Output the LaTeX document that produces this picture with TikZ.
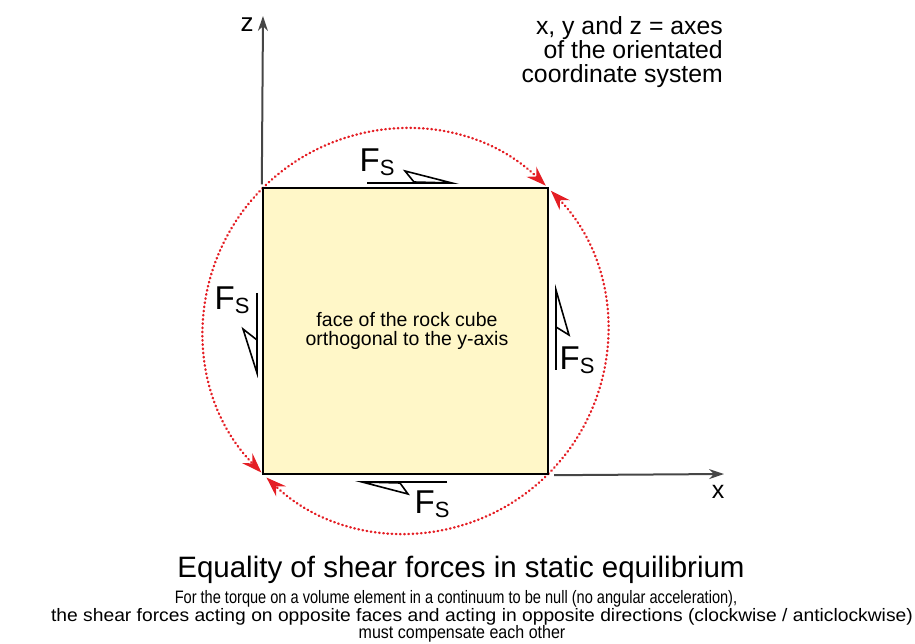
\documentclass[tikz,border=0pt]{standalone}
\usepackage{fontspec}
\setmainfont{Liberation Sans}
\usetikzlibrary{arrows.meta}
\definecolor{arcred}{RGB}{228,30,36}
\definecolor{faceyellow}{RGB}{255,247,200}
\definecolor{axisgray}{RGB}{70,70,70}
\newcommand{\fsz}[1]{\fontsize{#1}{#1}\selectfont}
\begin{document}
\begin{tikzpicture}[x=1pt,y=1pt,
 axis/.style={draw=axisgray, line width=2pt, -{Stealth[length=15pt,width=10pt]}},
 torque/.style={draw=arcred, line width=2.4pt, line cap=round, dash pattern=on 0.6pt off 3.6pt, -{Stealth[length=20pt,width=14pt,inset=7pt]}},
 face/.style={draw=black, line width=2.4pt, fill=faceyellow, inner sep=0pt},
 shear/.style={draw=black, line width=1.9pt},
 barb/.style={draw=black, line width=1.6pt, fill=white, line join=miter},
 flabel/.style={inner sep=0pt, anchor=base west, font=\fsz{33}},
 txt/.style={inner sep=0pt, anchor=base}
]
\useasboundingbox (0,0) rectangle (915,643);
\coordinate (C) at (405.5,312);
% torque arcs
\draw[torque] ([shift={(135:202)}]C) arc[start angle=135,end angle=46,radius=202];
\draw[torque] ([shift={(-45:202)}]C) arc[start angle=-45,end angle=44,radius=202];
\draw[torque] ([shift={(135:202)}]C) arc[start angle=135,end angle=224.5,radius=202];
\draw[torque] ([shift={(-45:202)}]C) arc[start angle=-45,end angle=-133.5,radius=202];
% face
\node[face, minimum width=285pt, minimum height=286pt] (sq) at (C) {};
\node[txt, font=\fsz{19.5}] (t1) at (407,316) {face of the rock cube};
\node[txt, font=\fsz{19.5}] (t2) at (407,297) {orthogonal to the y-axis};
% axes
\coordinate (ztip) at (263,627);
\coordinate (xtip) at (724,169);
\draw[axis] ([yshift=2.5pt]sq.north west) -- (ztip);
\draw[axis] ([xshift=5pt]sq.south east) -- (xtip);
\node[txt, font=\fsz{26}] (zl) at (247,611) {z};
\node[txt, font=\fsz{25}] (xl) at (718,145) {x};
% shear force symbols
\coordinate (tA) at (367,460); \coordinate (tB) at (452,460);
\draw[shear] (tA) -- (tB);
\draw[barb] (tB) -- (405,472) -- (414,461) -- cycle;
\coordinate (lA) at (257,350); \coordinate (lB) at (257,270);
\draw[shear] (lA) -- (lB);
\draw[barb] (lB) -- (243,314) -- (257,303) -- cycle;
\coordinate (rA) at (556,273); \coordinate (rB) at (556,353);
\draw[shear] (rA) -- (rB);
\draw[barb] (rB) -- (569,308) -- (556,316) -- cycle;
\coordinate (bA) at (447,161); \coordinate (bB) at (362,161);
\draw[shear] (bA) -- (bB);
\draw[barb] (bB) -- (408,149) -- (400,160) -- cycle;
\node[flabel] (ft) at (359.5,471) {F\raisebox{-4pt}{\fsz{22}S}};
\node[flabel] (fl) at (214.5,333) {F\raisebox{-4pt}{\fsz{22}S}};
\node[flabel] (fr) at (559.5,273) {F\raisebox{-4pt}{\fsz{22}S}};
\node[flabel] (fb) at (414.5,130) {F\raisebox{-4pt}{\fsz{22}S}};
% legend
\node[txt, anchor=base east, font=\fsz{24.8}] (g1) at (723,608) {x, y and z = axes};
\node[txt, anchor=base east, font=\fsz{24.8}] (g2) at (723,584) {of the orientated};
\node[txt, anchor=base east, font=\fsz{24.8}] (g3) at (723,560) {coordinate system};
% caption
\node[txt, font=\fsz{29.5}] (cap) at (461,66) {Equality of shear forces in static equilibrium};
\node[txt, font=\fsz{18}] (c1) at (456,40) {\scalebox{0.81}[1]{For the torque on a volume element in a continuum to be null (no angular acceleration),}};
\node[txt, font=\fsz{18}] (c2) at (482,22) {\scalebox{1.07}[1]{the shear forces acting on opposite faces and acting in opposite directions (clockwise / anticlockwise)}};
\node[txt, font=\fsz{18}] (c3) at (462,5) {\scalebox{0.89}[1]{must compensate each other}};
\end{tikzpicture}
\end{document}
